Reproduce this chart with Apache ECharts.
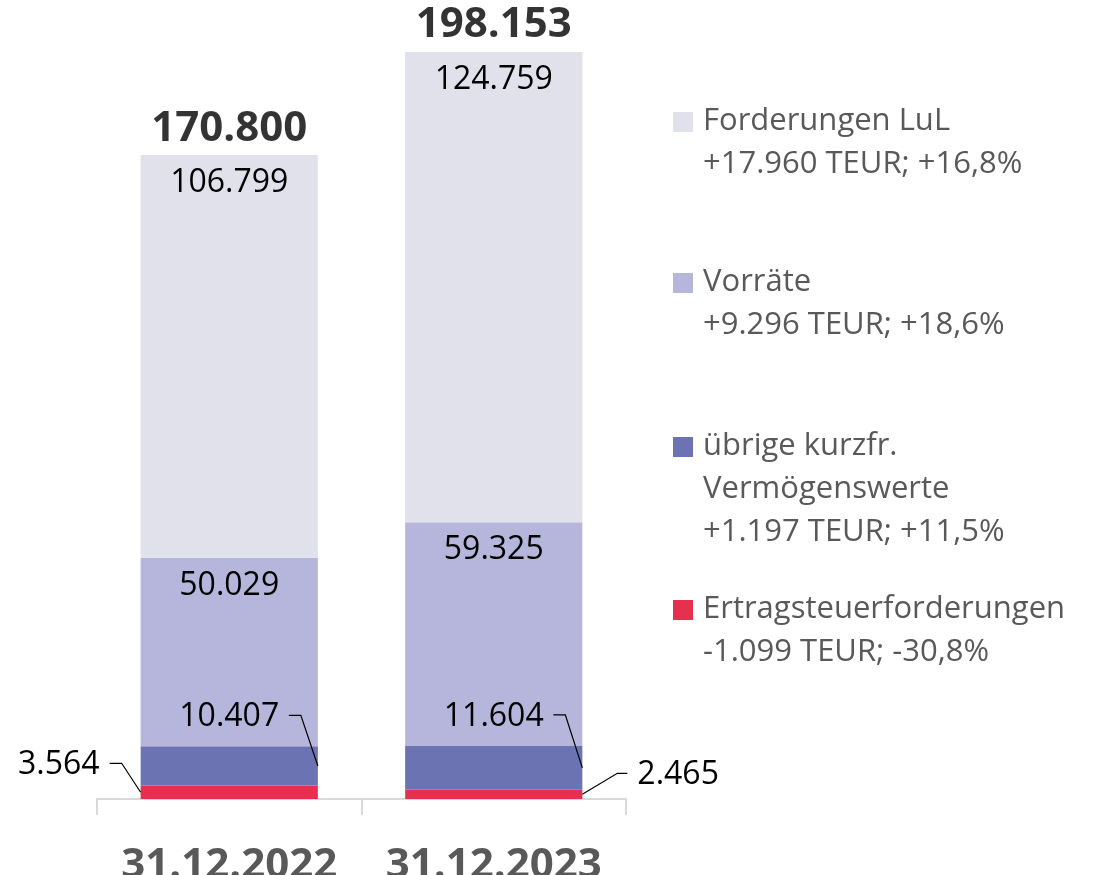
<!DOCTYPE html>
<html>
<head>
<meta charset="utf-8">
<script src="https://cdn.jsdelivr.net/npm/echarts@6/dist/echarts.min.js"></script>
<style>
  html, body { margin: 0; padding: 0; background: #fff; }
  #main { width: 1102px; height: 875px; }
</style>
</head>
<body>
<div id="main"></div>
<script>
const kategorien = ['31.12.2022', '31.12.2023']
const ertragsteuer = [3564, 2465]
const uebrige = [10407, 11604]
const vorraete = [50029, 59325]
const forderungen = [106799, 124759]
const summen = [170800, 198153]

const legendNamen = ['Forderungen LuL', 'Vorräte', 'übrige kurzfr.\nVermögenswerte', 'Ertragsteuerforderungen']
const legendAenderung = ['+17.960 TEUR; +16,8%', '+9.296 TEUR; +18,6%', '+1.197 TEUR; +11,5%', '-1.099 TEUR; -30,8%']
const farben = ['#E1E1EB', '#B6B6DC', '#6B73B3', '#E5304F']

const schrift = '"Open Sans", "DejaVu Sans", sans-serif'

function fmt(n) {
    return String(Math.round(n)).replace(/\B(?=(\d{3})+(?!\d))/g, '.')
}

// Beschriftungen mit Hinweislinie: [kategorie, von, bis, seite]
// seite 0 = oberhalb, rechts angebunden; 1 = links; 2 = rechts
const hinweise = [
    [0, ertragsteuer[0], ertragsteuer[0] + uebrige[0], 0],
    [1, ertragsteuer[1], ertragsteuer[1] + uebrige[1], 0],
    [0, 0, ertragsteuer[0], 1],
    [1, 0, ertragsteuer[1], 2]
]

const chart = echarts.init(document.getElementById('main'))

const innenLabel = {
    show: true,
    position: 'insideTop',
    distance: 12,
    fontFamily: schrift,
    fontSize: 32,
    color: '#000',
    formatter: p => fmt(p.value)
}

function renderHinweis(params, api) {
    const kat = api.value(0)
    const von = api.value(1)
    const bis = api.value(2)
    const seite = api.value(3)
    const pVon = api.coord([kat, von])
    const pBis = api.coord([kat, bis])
    const breite = api.size([1, 0])[0] * 0.67
    const links = pVon[0] - breite / 2
    const rechts = pVon[0] + breite / 2
    const mitte = (pVon[1] + pBis[1]) / 2
    let punkte, tx, ty, align
    if (seite === 0) {
        tx = pVon[0]
        ty = pBis[1] - 29
        align = 'center'
        punkte = [[rechts, mitte], [rechts - 17, ty - 2], [rechts - 29, ty - 2]]
    } else if (seite === 1) {
        tx = links - 41
        ty = mitte - 27
        align = 'right'
        punkte = [[links, mitte], [links - 19, ty - 2], [links - 31, ty - 2]]
    } else {
        tx = rechts + 55
        ty = mitte - 19
        align = 'left'
        punkte = [[rechts, mitte], [rechts + 35, ty - 2], [rechts + 45, ty - 2]]
    }
    return {
        type: 'group',
        children: [
            {
                type: 'polyline',
                shape: { points: punkte },
                style: { stroke: '#000', lineWidth: 1.2, fill: null }
            },
            {
                type: 'text',
                style: {
                    text: fmt(bis - von),
                    x: tx,
                    y: ty,
                    align: align,
                    verticalAlign: 'middle',
                    fontFamily: schrift,
                    fontSize: 32,
                    fill: '#000'
                }
            }
        ]
    }
}

// Legende rechts als Grafik (Quadrat an der ersten Zeile)
const legendY = [122, 283, 447, 610]
const legende = []
legendNamen.forEach((name, i) => {
    legende.push({
        type: 'rect',
        left: 673,
        top: legendY[i] - 10,
        shape: { width: 20, height: 20 },
        style: { fill: farben[i] }
    })
    legende.push({
        type: 'text',
        left: 703,
        top: legendY[i] - 22,
        style: {
            text: name + '\n' + legendAenderung[i],
            fontFamily: schrift,
            fontSize: 31,
            lineHeight: 43,
            fill: '#595959'
        }
    })
})

const option = {
    animation: false,
    backgroundColor: '#fff',
    grid: { left: 97, right: 476, top: 45, bottom: 76, outerBoundsMode: 'none', containLabel: false },
    xAxis: {
        type: 'category',
        data: kategorien,
        axisLine: { lineStyle: { color: '#D9D9D9', width: 2 } },
        axisTick: { show: true, length: 16, lineStyle: { color: '#D9D9D9', width: 2 } },
        axisLabel: {
            interval: 0,
            hideOverlap: false,
            margin: 46,
            fontFamily: schrift,
            fontSize: 42,
            fontWeight: 'bold',
            color: '#595959'
        }
    },
    yAxis: {
        type: 'value',
        min: 0,
        max: 200000,
        show: false,
        splitLine: { show: false }
    },
    graphic: legende,
    series: [
        {
            name: 'Ertragsteuerforderungen',
            type: 'bar',
            stack: 'a',
            barWidth: '67%',
            data: ertragsteuer,
            itemStyle: { color: farben[3] }
        },
        {
            name: 'übrige kurzfr. Vermögenswerte',
            type: 'bar',
            stack: 'a',
            data: uebrige,
            itemStyle: { color: farben[2] }
        },
        {
            name: 'Vorräte',
            type: 'bar',
            stack: 'a',
            data: vorraete,
            itemStyle: { color: farben[1] },
            label: innenLabel
        },
        {
            name: 'Forderungen LuL',
            type: 'bar',
            stack: 'a',
            data: forderungen,
            itemStyle: { color: farben[0] },
            label: innenLabel
        },
        {
            name: 'Summe',
            type: 'scatter',
            data: summen,
            symbolSize: 1,
            itemStyle: { color: 'rgba(0,0,0,0)' },
            label: {
                show: true,
                position: 'top',
                distance: 5,
                fontFamily: schrift,
                fontSize: 42,
                fontWeight: 'bold',
                color: '#000',
                formatter: p => fmt(p.value)
            },
            z: 5
        },
        {
            name: 'Hinweise',
            type: 'custom',
            data: hinweise,
            renderItem: renderHinweis,
            z: 6
        }
    ]
}

chart.setOption(option)
window.addEventListener('resize', () => chart.resize())
</script>
</body>
</html>
